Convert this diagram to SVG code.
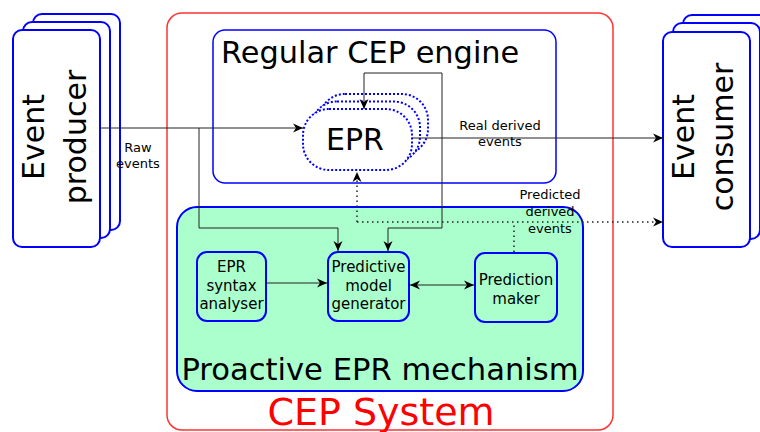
<svg xmlns="http://www.w3.org/2000/svg" width="760" height="432" viewBox="0 0 760 432">
<defs>
<style>
.box{fill:#fff;stroke:#0000ff;stroke-width:2}
.sub{fill:#aaffcc;stroke:#0000ff;stroke-width:2}
.dot{fill:#fff;stroke:#0000ff;stroke-width:2;stroke-dasharray:2,2}
.ln{fill:none;stroke:#222;stroke-width:1}
.dl{fill:none;stroke:#222;stroke-width:1.5;stroke-dasharray:1.5,3.5}
text{font-family:"DejaVu Sans",sans-serif;fill:#000}
.big{font-size:30px}
.sm{font-size:13px;text-anchor:middle}
.md{font-size:15px;text-anchor:middle}
</style>
<marker id="ah" markerUnits="userSpaceOnUse" viewBox="-11 -5 12 10" refX="0" refY="0" markerWidth="12" markerHeight="10" orient="auto-start-reverse">
<path d="M0,0 L-10,-4.5 L-7,0 L-10,4.5 Z" fill="#000"/>
</marker>
</defs>
<g id="cep-system">
<rect x="167" y="13" width="446" height="417" rx="15" fill="none" stroke="#ff3333" stroke-width="1.5"/>
<text x="381" y="425" font-size="38" fill="#ff0000" style="fill:#ff0000" text-anchor="middle">CEP System</text>
</g>
<g id="event-producer">
<rect class="box" x="33" y="14" width="87" height="216" rx="9"/>
<rect class="box" x="23" y="22" width="87" height="216" rx="9"/>
<rect class="box" x="13" y="30" width="87" height="217" rx="9"/>
<text class="big" transform="translate(44,137) rotate(-90)" text-anchor="middle">Event</text>
<text class="big" transform="translate(86,137) rotate(-90)" text-anchor="middle">producer</text>
</g>
<g id="event-consumer">
<rect class="box" x="683" y="15" width="87" height="216" rx="9"/>
<rect class="box" x="673" y="23" width="87" height="216" rx="9"/>
<rect class="box" x="663" y="32" width="87" height="215" rx="9"/>
<text class="big" transform="translate(694,137) rotate(-90)" text-anchor="middle">Event</text>
<text class="big" transform="translate(733,137) rotate(-90)" text-anchor="middle">consumer</text>
</g>
<g id="regular-cep-engine">
<rect x="213" y="30" width="343" height="153" rx="12" fill="none" stroke="#0000ff" stroke-width="1.5"/>
<text x="221" y="63" font-size="30.4">Regular CEP engine</text>
</g>
<g id="proactive-epr-mechanism">
<rect class="sub" x="177" y="207" width="406" height="184" rx="20"/>
<text x="380" y="380" font-size="30.6" text-anchor="middle">Proactive EPR mechanism</text>
</g>
<g id="epr">
<rect class="dot" x="319" y="94" width="109" height="61" rx="26"/>
<rect class="dot" x="311" y="101.5" width="109" height="61" rx="26"/>
<rect class="dot" x="303" y="109" width="109" height="61" rx="26"/>
<text class="big" x="355" y="150" text-anchor="middle">EPR</text>
</g>
<g id="epr-syntax-analyser">
<rect class="sub" x="197" y="252" width="69" height="69" rx="10"/>
<text class="md" x="231.5" y="272">EPR</text>
<text class="md" x="231.5" y="290.5">syntax</text>
<text class="md" x="231.5" y="309">analyser</text>
</g>
<g id="predictive-model-generator">
<rect class="sub" x="328" y="252" width="81" height="69" rx="10"/>
<text class="md" x="368.5" y="272">Predictive</text>
<text class="md" x="368.5" y="290.5">model</text>
<text class="md" x="368.5" y="309">generator</text>
</g>
<g id="prediction-maker">
<rect class="sub" x="475" y="253" width="82" height="69" rx="10"/>
<text class="md" x="516" y="285">Prediction</text>
<text class="md" x="516" y="303.5">maker</text>
</g>
<g id="connectors">
<path class="ln" d="M100,128 H303" marker-end="url(#ah)"/>
<path class="ln" d="M199,128 V228 H338 V251" marker-end="url(#ah)"/>
<path class="ln" d="M412,138 H663" marker-end="url(#ah)"/>
<path class="ln" d="M442,138 V73 H364 V109" marker-end="url(#ah)"/>
<path class="ln" d="M442,138 V228 H388 V251" marker-end="url(#ah)"/>
<path class="ln" d="M266,283 H327" marker-end="url(#ah)"/>
<path class="ln" d="M410,285 H474" marker-start="url(#ah)" marker-end="url(#ah)"/>
<path class="dl" d="M357,222 V172" marker-end="url(#ah)"/>
<path class="dl" d="M357,222 H663" marker-end="url(#ah)"/>
<path class="dl" d="M514,252 V222"/>
<text class="sm" x="138" y="152">Raw</text>
<text class="sm" x="138" y="168">events</text>
<text class="sm" x="500" y="130">Real derived</text>
<text class="sm" x="500" y="146">events</text>
<text class="sm" x="550" y="199">Predicted</text>
<text class="sm" x="550" y="216">derived</text>
<text class="sm" x="550" y="233">events</text>
</g>
</svg>
